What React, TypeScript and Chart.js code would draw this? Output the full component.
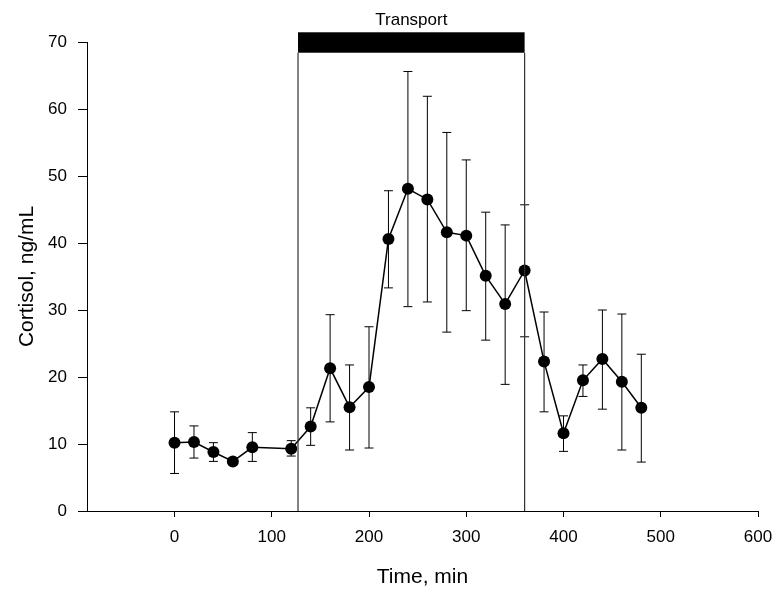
import React, { useEffect, useRef } from "react";
import { Chart, registerables } from "chart.js";

Chart.register(...registerables);

const times = [0, 20, 40, 60, 80, 120, 140, 160, 180, 200, 220, 240, 260, 280, 300, 320, 340, 360, 380, 400, 420, 440, 460, 480];
const cortisol = [10.2, 10.3, 8.8, 7.4, 9.5, 9.3, 12.6, 21.3, 15.5, 18.5, 40.6, 48.1, 46.5, 41.6, 41.1, 35.1, 30.9, 35.9, 22.3, 11.6, 19.5, 22.7, 19.3, 15.4];
const upperErr = [14.8, 12.7, 10.2, 7.4, 11.7, 10.5, 15.4, 29.3, 21.8, 27.5, 47.8, 65.6, 61.9, 56.5, 52.4, 44.6, 42.7, 45.7, 29.7, 14.2, 21.8, 30.0, 29.4, 23.4];
const lowerErr = [5.6, 7.9, 7.4, 7.4, 7.4, 8.2, 9.8, 13.3, 9.1, 9.4, 33.3, 30.5, 31.2, 26.7, 29.9, 25.5, 18.9, 26.0, 14.8, 8.9, 17.1, 15.2, 9.1, 7.3];
const xTickValues = [0, 100, 200, 300, 400, 500, 600];
const transportStart = 127;
const transportEnd = 360;
const transportBarLow = 68.4;
const transportBarHigh = 71.45;
const transportLabel = "Transport";

const FONT = "'Liberation Sans', Arial, sans-serif";

const errorBarPlugin = {
  id: "errorBars",
  beforeDatasetsDraw(chart: any) {
    const { ctx, scales } = chart;
    const xs = scales.x;
    const ys = scales.y;
    ctx.save();
    ctx.strokeStyle = "#000";
    ctx.lineWidth = 1;
    const cap = 4.5;
    for (let i = 0; i < times.length; i++) {
      const px = xs.getPixelForValue(times[i]);
      const pyU = ys.getPixelForValue(upperErr[i]);
      const pyL = ys.getPixelForValue(lowerErr[i]);
      ctx.beginPath();
      ctx.moveTo(px, pyU);
      ctx.lineTo(px, pyL);
      ctx.moveTo(px - cap, pyU);
      ctx.lineTo(px + cap, pyU);
      ctx.moveTo(px - cap, pyL);
      ctx.lineTo(px + cap, pyL);
      ctx.stroke();
    }
    ctx.restore();
  },
};

const transportPlugin = {
  id: "transport",
  afterDraw(chart: any) {
    const { ctx, scales } = chart;
    const xs = scales.x;
    const ys = scales.y;
    const x1 = xs.getPixelForValue(transportStart);
    const x2 = xs.getPixelForValue(transportEnd);
    const yTop = ys.getPixelForValue(transportBarHigh);
    const yBot = ys.getPixelForValue(transportBarLow);
    const y0 = ys.getPixelForValue(0);
    ctx.save();
    ctx.fillStyle = "#000";
    ctx.fillRect(x1, yTop, x2 - x1, yBot - yTop);
    ctx.strokeStyle = "#333";
    ctx.lineWidth = 1.2;
    ctx.beginPath();
    ctx.moveTo(x1, yBot);
    ctx.lineTo(x1, y0);
    ctx.moveTo(x2, yBot);
    ctx.lineTo(x2, y0);
    ctx.stroke();
    ctx.fillStyle = "#000";
    ctx.font = `17px ${FONT}`;
    ctx.textAlign = "center";
    ctx.textBaseline = "bottom";
    ctx.fillText(transportLabel, (x1 + x2) / 2, yTop - 3);
    ctx.restore();
  },
};

export default function App() {
  const ref = useRef<HTMLCanvasElement | null>(null);
  useEffect(() => {
    if (!ref.current) return;
    const chart = new Chart(ref.current, {
      type: "line",
      data: {
        datasets: [
          {
            data: times.map((t, i) => ({ x: t, y: cortisol[i] })),
            borderColor: "#000",
            borderWidth: 1.5,
            backgroundColor: "#000",
            pointRadius: 6,
            pointBackgroundColor: "#000",
            pointBorderColor: "#000",
            pointBorderWidth: 0,
            tension: 0,
          },
        ],
      },
      options: {
        animation: false,
        responsive: true,
        maintainAspectRatio: false,
        layout: { padding: { top: 42, right: 17, left: 0, bottom: 0 } },
        plugins: { legend: { display: false }, tooltip: { enabled: false } },
        scales: {
          x: {
            type: "linear",
            min: -90,
            max: 600,
            afterBuildTicks: (scale: any) => {
              scale.ticks = xTickValues.map((v) => ({ value: v }));
            },
            afterFit: (scale: any) => {
              scale.height = 81;
              scale.paddingLeft = 0;
              scale.paddingRight = 0;
            },
            ticks: {
              color: "#000",
              padding: 10,
              font: { family: FONT, size: 17 },
              maxRotation: 0,
              autoSkip: false,
            },
            grid: { drawOnChartArea: false, drawTicks: true, tickLength: 6, color: "#000" },
            border: { display: true, color: "#000", width: 1 },
            title: {
              display: true,
              text: "Time, min",
              color: "#000",
              font: { family: FONT, size: 21 },
              padding: { top: 0, bottom: 2 },
            },
          },
          y: {
            type: "linear",
            min: 0,
            max: 70,
            afterFit: (scale: any) => {
              scale.width = 87;
              scale.paddingTop = 0;
              scale.paddingBottom = 0;
            },
            ticks: {
              stepSize: 10,
              color: "#000",
              padding: 11,
              font: { family: FONT, size: 17 },
            },
            grid: { drawOnChartArea: false, drawTicks: true, tickLength: 9, color: "#000" },
            border: { display: true, color: "#000", width: 1 },
            title: {
              display: true,
              text: "Cortisol, ng/mL",
              color: "#000",
              font: { family: FONT, size: 21 },
              padding: { top: 15, bottom: 0 },
            },
          },
        },
      },
      plugins: [errorBarPlugin, transportPlugin],
    } as any);
    return () => chart.destroy();
  }, []);
  return (
    <div style={{ position: "absolute", left: 0, top: 0, width: 775, height: 592, background: "#fff" }}>
      <canvas ref={ref} />
    </div>
  );
}
